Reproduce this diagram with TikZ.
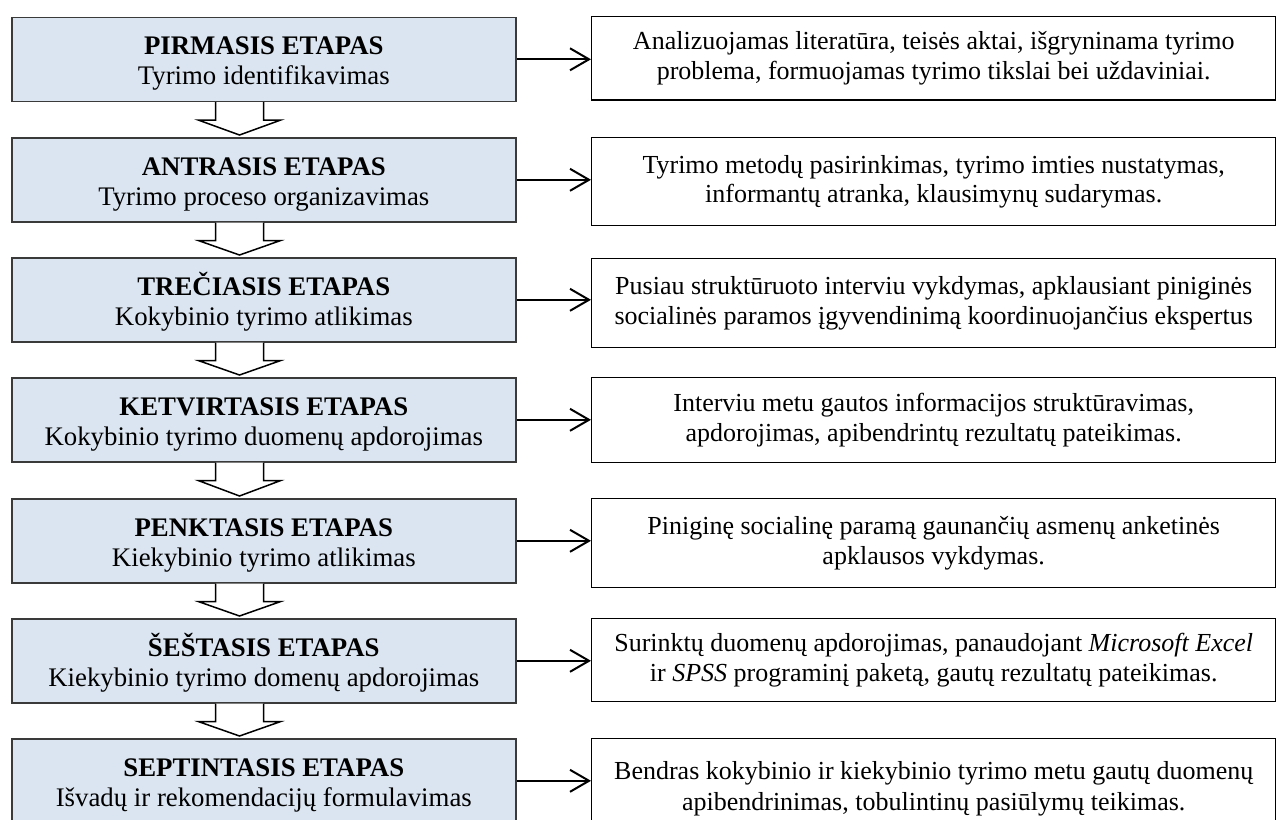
\documentclass[tikz,border=0pt]{standalone}
\usepackage{fontspec}
\setmainfont{Liberation Serif}
\usetikzlibrary{calc,arrows.meta}
\definecolor{stagefill}{HTML}{DBE5F1}
\definecolor{stageedge}{HTML}{3A3A3A}

% strut that lowers the two-line stage captions a little inside their boxes
\newcommand{\capstrut}{\rule{0pt}{27pt}}

\begin{document}
\begin{tikzpicture}[x=1pt,y=-1pt,
  stagebox/.style={font=\fontsize{26.8}{30}\selectfont, align=center,
    draw=stageedge, line width=1.6pt, fill=stagefill,
    minimum width=504pt, minimum height=84pt, inner sep=0pt, anchor=north west},
  descbox/.style={font=\fontsize{26}{29.5}\selectfont, align=center,
    draw=black, line width=1.4pt, fill=white,
    minimum width=684pt, inner sep=0pt, anchor=north west},
  link/.style={line width=2pt, -{Straight Barb[length=19pt,width=22pt,line width=2pt]}},
  downarrow/.style={draw=black, line width=1.5pt, fill=white, line join=miter}
]
\clip (0,0) rectangle (1279,819);

% stage boxes (left column)
\node[stagebox] (L1) at (11,16.5)  {\capstrut\textbf{PIRMASIS ETAPAS}\\Tyrimo identifikavimas};
\node[stagebox] (L2) at (11,137)   {\capstrut\textbf{ANTRASIS ETAPAS}\\Tyrimo proceso organizavimas};
\node[stagebox] (L3) at (11,257)   {\capstrut\textbf{TREČIASIS ETAPAS}\\Kokybinio tyrimo atlikimas};
\node[stagebox] (L4) at (11,377)   {\capstrut\textbf{KETVIRTASIS ETAPAS}\\Kokybinio tyrimo duomenų apdorojimas};
\node[stagebox] (L5) at (11,498)   {\capstrut\textbf{PENKTASIS ETAPAS}\\Kiekybinio tyrimo atlikimas};
\node[stagebox] (L6) at (11,618)   {\capstrut\textbf{ŠEŠTASIS ETAPAS}\\Kiekybinio tyrimo domenų apdorojimas};
\node[stagebox] (L7) at (11,738)   {\capstrut\textbf{SEPTINTASIS ETAPAS}\\Išvadų ir rekomendacijų formulavimas};

% description boxes (right column)
\node[descbox, minimum height=83.5pt] (R1) at (591,15.6)
  {Analizuojamas literatūra, teisės aktai, išgryninama tyrimo\\problema, formuojamas tyrimo tikslai bei uždaviniai.};
\node[descbox, minimum height=88pt] (R2) at (591,137)
  {Tyrimo metodų pasirinkimas, tyrimo imties nustatymas,\\informantų atranka, klausimynų sudarymas.};
\node[descbox, minimum height=89pt] (R3) at (591,258)
  {Pusiau struktūruoto interviu vykdymas, apklausiant piniginės\\socialinės paramos įgyvendinimą koordinuojančius ekspertus};
\node[descbox, minimum height=85pt] (R4) at (591,377)
  {Interviu metu gautos informacijos struktūravimas,\\apdorojimas, apibendrintų rezultatų pateikimas.};
\node[descbox, minimum height=89pt] (R5) at (591,498)
  {Piniginę socialinę paramą gaunančių asmenų anketinės\\apklausos vykdymas.};
\node[descbox, minimum height=83pt] (R6) at (591,618)
  {Surinktų duomenų apdorojimas, panaudojant \textit{Microsoft Excel}\\ir \textit{SPSS} programinį paketą, gautų rezultatų pateikimas.};
\node[descbox, minimum height=88pt] (R7) at (591,738)
  {\rule{0pt}{30pt}Bendras kokybinio ir kiekybinio tyrimo metu gautų duomenų\\[2pt]apibendrinimas, tobulintinų pasiūlymų teikimas.};

% stage -> description connectors
\foreach \i in {1,...,7}{
  \draw[link] (L\i.east) -- (L\i.east -| R\i.west);
}

% hollow block arrows between consecutive stages
\foreach \i/\j in {1/2,2/3,3/4,4/5,5/6,6/7}{
  \draw[downarrow] ($(L\i.south west)+(204.5,0)$) -- ++(0,18) -- ++(-17,0)
    -- ($(L\j.north west)+(228.5,-2)$)
    -- ($(L\i.south west)+(269.5,18)$) -- ++(-17,0) -- ++(0,-18);
}
\end{tikzpicture}
\end{document}
